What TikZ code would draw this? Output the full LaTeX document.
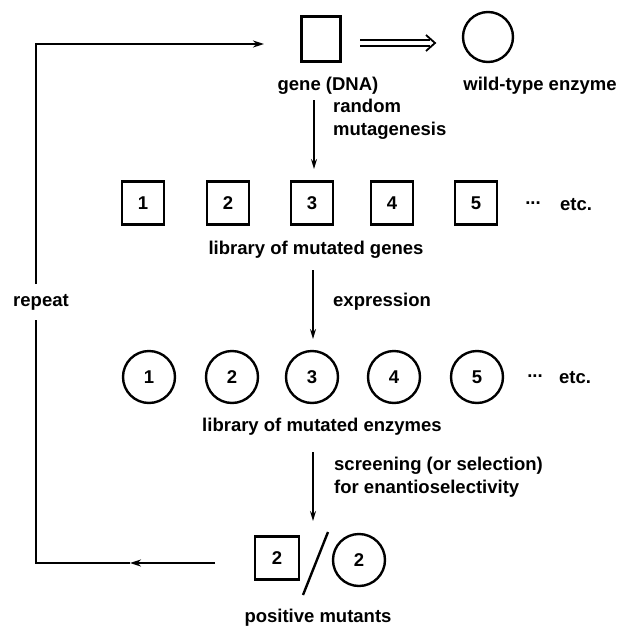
\documentclass[tikz,border=0pt]{standalone}
\usepackage{fontspec}
\setmainfont{Liberation Sans}
\usetikzlibrary{arrows.meta}
\begin{document}
\begin{tikzpicture}[x=1pt,y=-1pt,
  every node/.style={font=\fontsize{18.5}{23}\selectfont\bfseries, inner sep=0pt},
  genebox/.style={draw, line width=2.4pt, minimum width=42pt, minimum height=43pt},
  enzcirc/.style={draw, circle, line width=2.4pt, minimum size=52pt},
  lbl/.style={align=left, anchor=west},
  arr/.style={line width=1.5pt, -{Stealth[length=10pt,width=6pt]}},
  loopline/.style={line width=2.4pt},
]
\useasboundingbox (0,0) rectangle (619,627);
% top row
\node[genebox, minimum width=39pt, minimum height=45pt] (gene) at (321,39) {};
\node[draw, circle, line width=2.4pt, minimum size=50pt] (wt) at (488,37) {};
\node (genelab) at (328,86) {gene (DNA)};
\node (wtlab) at (540,86) {wild-type enzyme};
\coordinate (dblS) at (360,43);
\coordinate (dblE) at (435,43);
\draw[line width=1.8pt] ([yshift=-3pt]dblS) -- ([yshift=-3pt,xshift=-5pt]dblE);
\draw[line width=1.8pt] ([yshift=3pt]dblS) -- ([yshift=3pt,xshift=-5pt]dblE);
\draw[line width=1.8pt, line join=miter] ([xshift=-9pt,yshift=-8pt]dblE) -- (dblE) -- ([xshift=-9pt,yshift=8pt]dblE);
% arrow 1
\coordinate (a1s) at (314,100);
\coordinate (a1e) at (314,169);
\draw[arr] (a1s) -- (a1e);
\node[lbl] (lab1) at (333,119) {random\\mutagenesis};
% genes row
\node[genebox] (sq1) at (143,203) {1};
\node[genebox] (sq2) at (228,203) {2};
\node[genebox] (sq3) at (312,203) {3};
\node[genebox] (sq4) at (392,203) {4};
\node[genebox] (sq5) at (476,203) {5};
\node (dots1) at (533,203) {...};
\node (etc1) at (576,205) {etc.};
\node (genes) at (316,250) {library of mutated genes};
% arrow 2
\coordinate (a2s) at (313,270);
\coordinate (a2e) at (313,339);
\draw[arr] (a2s) -- (a2e);
\node[lbl] (lab2) at (333,302) {expression};
% enzymes row
\node[enzcirc] (c1) at (149,377) {1};
\node[enzcirc] (c2) at (232,377) {2};
\node[enzcirc] (c3) at (312,377) {3};
\node[enzcirc] (c4) at (394,377) {4};
\node[enzcirc] (c5) at (477,377) {5};
\node (dots2) at (535,376) {...};
\node (etc2) at (575,378) {etc.};
\node (enz) at (322,427) {library of mutated enzymes};
% arrow 3
\coordinate (a3s) at (313,452);
\coordinate (a3e) at (313,521);
\draw[arr] (a3s) -- (a3e);
\node[lbl] (lab3) at (334,477) {screening (or selection)\\for enantioselectivity};
% positive mutants
\node[genebox, minimum width=44pt, minimum height=43pt] (psq) at (277,558) {2};
\node[enzcirc] (pc) at (359,560) {2};
\coordinate (slT) at (328,532);
\coordinate (slB) at (303,595);
\draw[line width=2.4pt] (slT) -- (slB);
\node (pos) at (318,618) {positive mutants};
% repeat loop
\node (rep) at (41,302) {repeat};
\coordinate (lR) at (215,563);
\coordinate (lM) at (130,563);
\coordinate (lBL) at (36,563);
\coordinate (gapB) at (36,320);
\coordinate (gapT) at (36,284);
\coordinate (lTL) at (36,44);
\coordinate (lT) at (264,44);
\draw[loopline, -{Stealth[length=11pt,width=7pt]}] (lR) -- (lM);
\draw[loopline] (lM) -- (lBL) -- (gapB);
\draw[loopline, -{Stealth[length=11pt,width=7pt]}] (gapT) -- (lTL) -- (lT);
\end{tikzpicture}
\end{document}
